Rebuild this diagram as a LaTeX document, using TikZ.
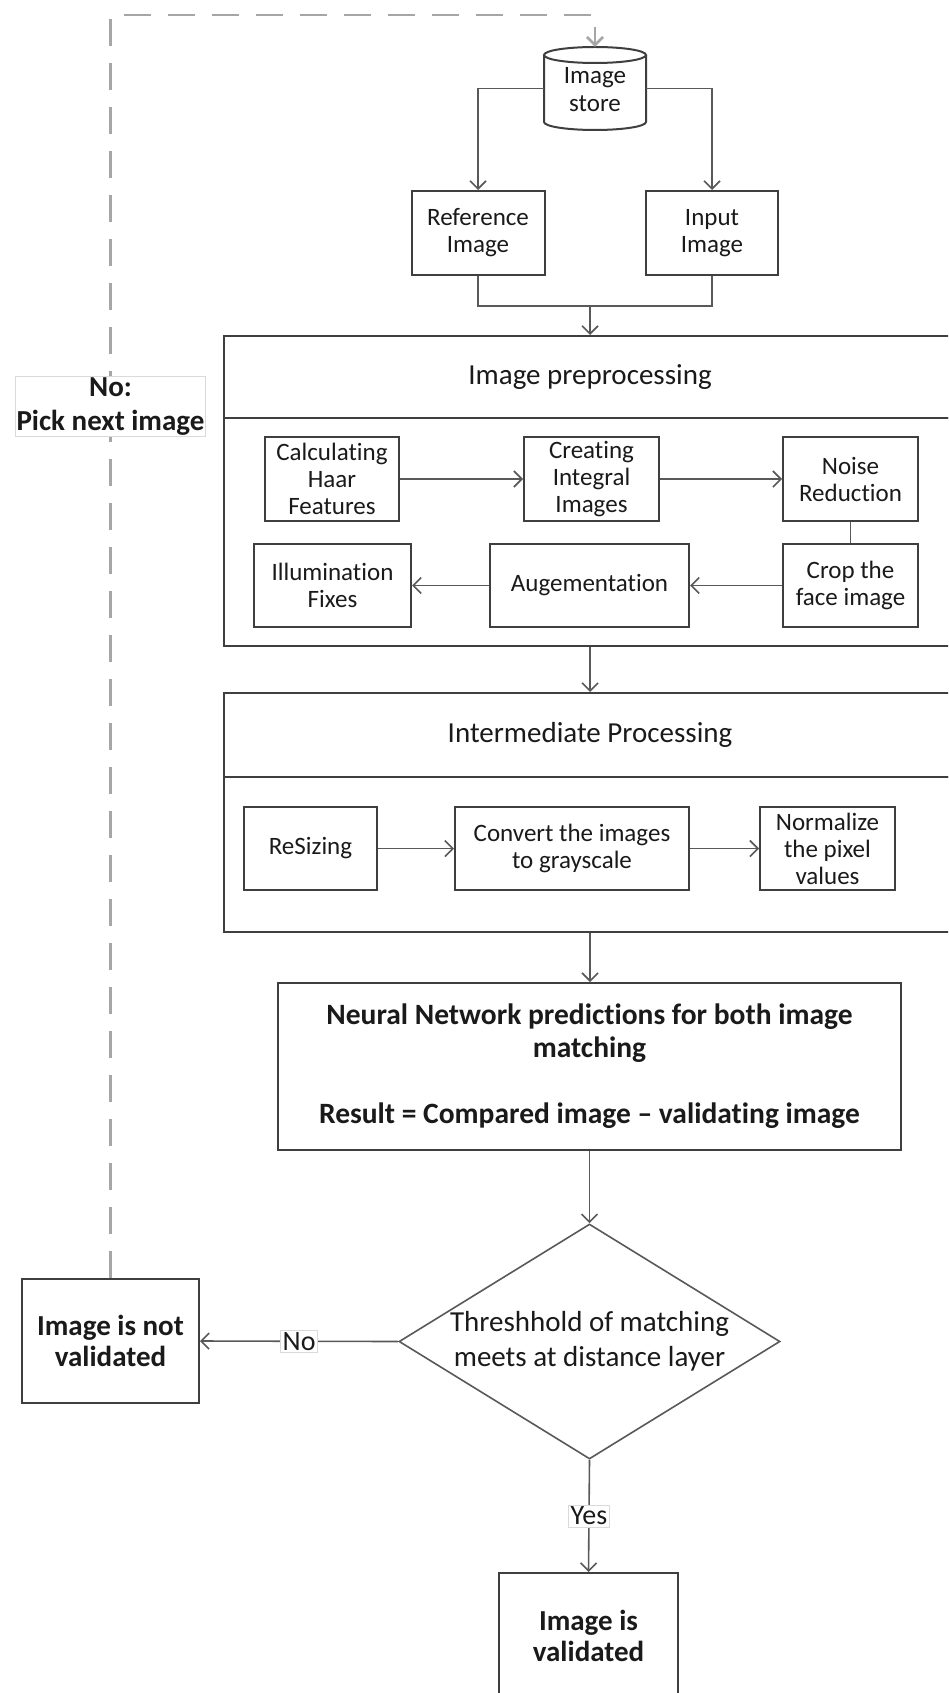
\documentclass[tikz,border=0pt]{standalone}
\usepackage{fontspec}
\setmainfont{Carlito}[Ligatures=NoCommon]
\usetikzlibrary{arrows.meta,shapes.geometric}
\definecolor{edge}{HTML}{3F3F3F}
\definecolor{wire}{HTML}{595959}
\definecolor{loopgray}{HTML}{A6A6A6}
\definecolor{tagframe}{HTML}{DADADA}
\definecolor{ink}{HTML}{1A1A1A}
\begin{document}
\begin{tikzpicture}[x=1pt,y=-1pt,
  barb/.tip={Straight Barb[length=8pt,width=16pt]},
  sized/.style 2 args={minimum width=#1,minimum height=#2},
  boxbase/.style={draw=edge,line width=2pt,fill=white,inner sep=0pt,align=center,text=ink},
  smallbox/.style={boxbase,font=\fontsize{25}{27}\selectfont},
  titlebox/.style={boxbase,font=\fontsize{29}{34}\selectfont},
  boldbox/.style={boxbase,font=\fontsize{29}{31}\selectfont\bfseries},
  wireline/.style={draw=wire,line width=1.6pt},
  flow/.style={wireline,-barb},
  loopline/.style={draw=loopgray,line width=2.6pt,dash pattern=on 27pt off 17pt,-barb},
  tag/.style={fill=white,draw=tagframe,line width=0.6pt,inner sep=2pt,text=ink,font=\fontsize{28}{33}\selectfont},
  decision/.style={diamond,draw=wire,line width=1.6pt,fill=white,inner sep=0pt,aspect=1.62}
]
\useasboundingbox (0,0) rectangle (948,1693);
\clip (0,0) rectangle (948,1693);

% ---- image store (cylinder) ----
\node[inner sep=0pt,sized={102}{83}] (store) at (595,88.5) {};
\begin{scope}[draw=edge,line width=2pt]
  \fill[white] (544,55) rectangle (646,122);
  \draw[fill=white] (544,55) -- (544,122)
     arc[start angle=180,end angle=360,x radius=51pt,y radius=8pt] -- (646,55);
  \draw[fill=white] (595,55) ellipse[x radius=51pt,y radius=8pt];
\end{scope}
\node[align=center,text=ink,font=\fontsize{25}{28}\selectfont] at (595,90) {Image\\store};

% ---- source images ----
\node[smallbox,sized={133}{84}] (ref) at (478,233) {Reference\\Image};
\node[smallbox,sized={132}{84}] (inp) at (712,233) {Input\\Image};
\coordinate (join) at (590,306);

% ---- image preprocessing block ----
\node[titlebox,sized={732}{82}] (prehead) at (590,377) {Image preprocessing};
\node[boxbase,sized={732}{228}] (prebody) at (590,532) {};
\node[smallbox,sized={134}{84}] (haar) at (332,479) {Calculating\\Haar\\Features};
\node[smallbox,sized={135}{84}] (integral) at (591.5,479) {Creating\\Integral\\Images};
\node[smallbox,sized={135}{84}] (noise) at (850.5,479) {Noise\\Reduction};
\node[smallbox,sized={135}{83}] (crop) at (850.5,585.5) {Crop the\\face image};
\node[smallbox,sized={199}{83}] (aug) at (589.5,585.5) {Augementation};
\node[smallbox,sized={157}{83}] (illum) at (332.5,585.5) {Illumination\\Fixes};

% ---- intermediate processing block ----
\node[titlebox,sized={732}{84}] (interhead) at (590,735) {Intermediate Processing};
\node[boxbase,sized={732}{155}] (interbody) at (590,854.5) {};
\node[smallbox,sized={133}{83}] (resize) at (310.5,848.5) {ReSizing};
\node[smallbox,sized={234}{83}] (convert) at (572,848.5) {Convert the images\\to grayscale};
\node[smallbox,sized={135}{83}] (normal) at (827.5,848.5) {Normalize\\the pixel\\values};

% ---- prediction and decision ----
\node[boxbase,sized={623}{167},font=\fontsize{29.5}{33}\selectfont\bfseries] (nn) at (589.5,1066.5)
  {Neural Network predictions for both image\\matching\\[33pt]Result = Compared image -- validating image};
\node[decision,minimum width=381,minimum height=235] (dec) at (589.5,1341.5) {};
\node[align=center,text=ink,font=\fontsize{29}{35}\selectfont] at (dec.center) {Threshhold of matching\\meets at distance layer};

\node[boldbox,sized={177}{124}] (notval) at (110.5,1341) {Image is not\\validated};
\node[boldbox,sized={179}{126}] (valid) at (588.5,1636) {Image is\\validated};

% ---- connectors ----
\draw[flow] (store.west) -| (ref.north);
\draw[flow] (store.east) -| (inp.north);
\draw[wireline] (ref.south) |- (join) -| (inp.south);
\draw[flow] (join) -- (join |- prehead.north);
\draw[flow] (haar) -- (integral);
\draw[flow] (integral) -- (noise);
\draw[wireline] (noise) -- (crop);
\draw[flow] (crop) -- (aug);
\draw[flow] (aug) -- (illum);
\draw[flow] (resize) -- (convert);
\draw[flow] (convert) -- (normal);
\draw[flow] (prebody.south) -- (interhead.north);
\draw[flow] (interbody.south) -- (interbody.south |- nn.north);
\draw[flow] (nn.south) -- (dec.north);
\draw[flow] (dec.west) -- node[tag] {No} (notval.east);
\draw[flow] (dec.south) -- node[tag] {Yes} (valid.north);

% ---- retry loop ----
\coordinate (rtop) at (595,15);
\draw[loopline] (notval.north) |- (rtop) -- (store.north);
\node[tag,align=center,font=\fontsize{29}{34}\selectfont\bfseries,inner sep=1pt] (retry) at (110.5,406.5) {No:\\Pick next image};
\end{tikzpicture}
\end{document}
